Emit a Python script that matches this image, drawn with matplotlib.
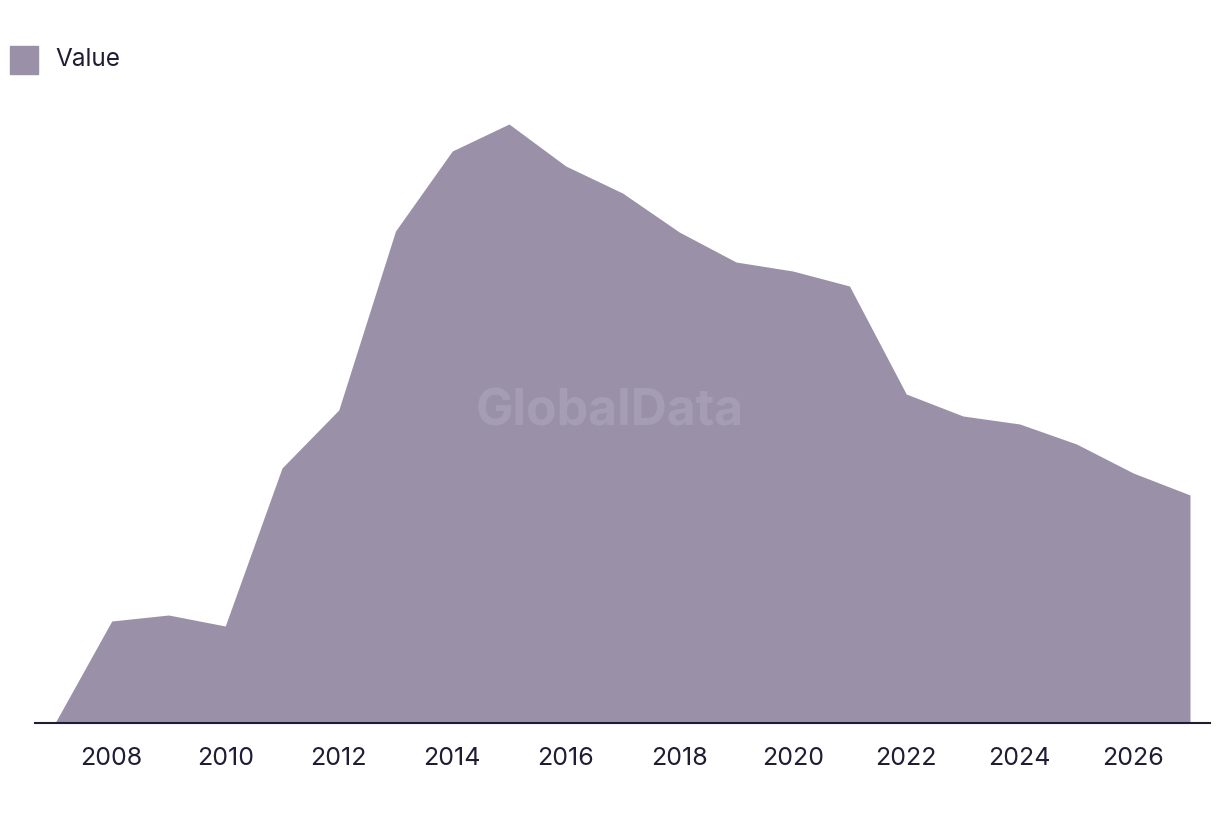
import matplotlib.pyplot as plt

years = list(range(2007, 2028))
values = [0, 102, 108, 97, 255, 313, 492, 572, 599, 557, 530, 491, 461, 452, 437,
          329, 307, 299, 279, 250, 228]
tick_years = [2008, 2010, 2012, 2014, 2016, 2018, 2020, 2022, 2024, 2026]

fill_color = '#9a91a9'
text_color = '#1f1d33'

plt.rcParams['font.family'] = ['Inter', 'DejaVu Sans']

fig = plt.figure(figsize=(12.2, 8.16), dpi=100)
ax = fig.add_axes([35 / 1220, 93 / 816, 1175 / 1220, 650 / 816])

ax.fill_between(years, values, 0, color=fill_color, linewidth=0)
ax.set_xlim(2007 - 20 / 56.75, 2027 + 20 / 56.75)
ax.set_ylim(0, 650)

for side in ['top', 'right', 'left']:
    ax.spines[side].set_visible(False)
ax.spines['bottom'].set_color(text_color)
ax.spines['bottom'].set_linewidth(1.5)
ax.set_yticks([])
ax.set_xticks(tick_years)
ax.tick_params(axis='x', length=0, pad=17, labelsize=18, labelcolor=text_color)

# watermark
fig.text(610 / 1220, 1 - 412 / 816, 'GlobalData', ha='center', va='center',
         fontsize=36, fontweight='bold', color='#a59db3')

# legend
fig.patches.append(plt.Rectangle((10 / 1220, 1 - 74 / 816), 28 / 1220, 28 / 816,
                                 transform=fig.transFigure, color=fill_color))
fig.text(55 / 1220, 1 - 60 / 816, 'Value', ha='left', va='center',
         fontsize=17.5, color=text_color)

plt.savefig('out.png', dpi=100)
